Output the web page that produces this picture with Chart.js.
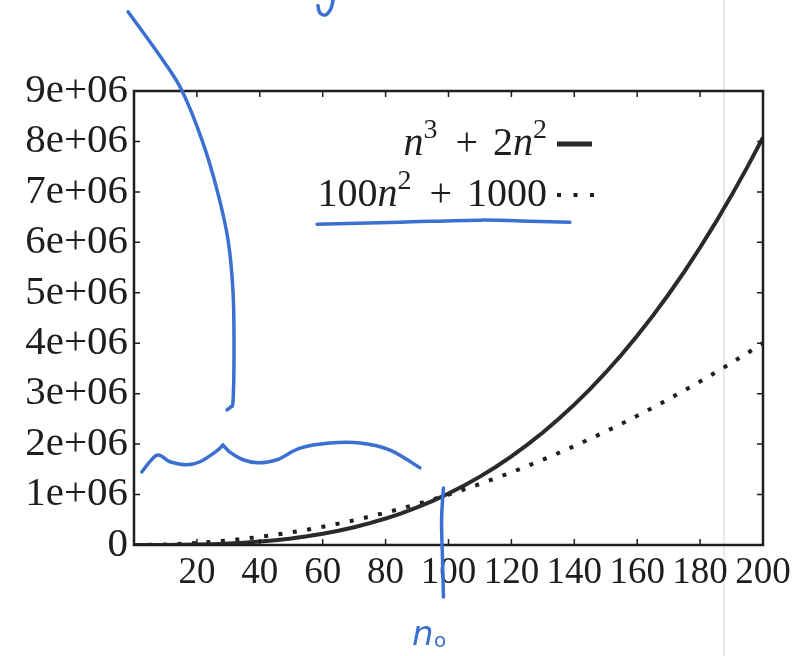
<!DOCTYPE html>
<html>
<head>
<meta charset="utf-8">
<script src="https://cdn.jsdelivr.net/npm/chart.js@4.4.0/dist/chart.umd.min.js"></script>
<style>
html, body { margin: 0; padding: 0; background: #fff; }
</style>
</head>
<body>
<canvas id="growthChart" width="798" height="656"></canvas>
<script>
// n values and the two curves
var nValues = [0, 5, 10, 15, 20, 25, 30, 35, 40, 45, 50, 55, 60, 65, 70, 75, 80, 85, 90, 95, 100,
    105, 110, 115, 120, 125, 130, 135, 140, 145, 150, 155, 160, 165, 170, 175, 180, 185, 190, 195, 200];
var cubicValues = [0, 175, 1200, 3825, 8800, 16875, 28800, 45325, 67200, 95175, 130000,
    172425, 223200, 283075, 352800, 433125, 524800, 628575, 745200, 875425, 1020000,
    1179675, 1355200, 1547325, 1756800, 1984375, 2230800, 2496825, 2783200, 3090675, 3420000,
    3771925, 4147200, 4546575, 4970800, 5420625, 5896800, 6400075, 6931200, 7490925, 8080000];
var quadValues = [1000, 3500, 11000, 23500, 41000, 63500, 91000, 123500, 161000, 203500, 251000,
    303500, 361000, 423500, 491000, 563500, 641000, 723500, 811000, 903500, 1001000,
    1103500, 1211000, 1323500, 1441000, 1563500, 1691000, 1823500, 1961000, 2103500, 2251000,
    2403500, 2561000, 2723500, 2891000, 3063500, 3241000, 3423500, 3611000, 3803500, 4001000];

// tick values and labels
var xTicks = [20, 40, 60, 80, 100, 120, 140, 160, 180, 200];
var yTicks = [0, 1e6, 2e6, 3e6, 4e6, 5e6, 6e6, 7e6, 8e6, 9e6];
var yTickLabels = ['0', '1e+06', '2e+06', '3e+06', '4e+06', '5e+06', '6e+06', '7e+06', '8e+06', '9e+06'];

// hand-drawn pen marks, in (n, value) units
var penBigStroke = [[-1.9, 10.57e6], [3.5, 10.11e6], [9.2, 9.61e6], [15.3, 9.0e6], [21.6, 8.03e6],
    [26.4, 7.04e6], [29.9, 6.05e6], [31.5, 5.0e6], [31.8, 3.87e6], [31.5, 2.87e6], [30.8, 2.74e6], [29.6, 2.68e6]];
var penBraceLeft = [[2.5, 1.45e6], [7.3, 1.78e6], [11.4, 1.65e6], [16.9, 1.59e6], [21.0, 1.65e6],
    [25.8, 1.84e6], [28.3, 1.98e6]];
var penBraceRight = [[28.3, 1.98e6], [30.5, 1.84e6], [34.7, 1.69e6], [39.4, 1.63e6], [45.5, 1.69e6],
    [52.8, 1.92e6], [62.3, 2.02e6], [71.9, 2.02e6], [81.4, 1.88e6], [90.9, 1.53e6]];
var penUnderline = [[58.2, 6.36e6], [84.6, 6.40e6], [110.0, 6.44e6], [125.9, 6.42e6], [138.6, 6.40e6]];
var penVertical = [[98.4, 1.13e6], [97.8, 0.50e6], [98.1, -0.30e6], [98.4, -1.03e6]];
var penTopGlyph = [[63.3, 10.8e6], [62.6, 10.63e6], [61.0, 10.51e6], [59.1, 10.55e6], [58.5, 10.69e6]];
var pageEdgeN = 187.6;

var serif = "'Liberation Serif', 'Times New Roman', serif";
var ink = '#1e1e1e';
var pen = '#3b6fd0';

function toPx(chart, pts) {
    var xs = chart.scales.x, ys = chart.scales.y;
    return pts.map(function(p) { return [xs.getPixelForValue(p[0]), ys.getPixelForValue(p[1])]; });
}

// catmull-rom through the points so the pen strokes stay smooth
function smoothStroke(ctx, pts) {
    ctx.beginPath();
    ctx.moveTo(pts[0][0], pts[0][1]);
    for (var i = 0; i < pts.length - 1; i++) {
        var p0 = pts[i - 1] || pts[i], p1 = pts[i], p2 = pts[i + 1], p3 = pts[i + 2] || p2;
        ctx.bezierCurveTo(
            p1[0] + (p2[0] - p0[0]) / 6, p1[1] + (p2[1] - p0[1]) / 6,
            p2[0] - (p3[0] - p1[0]) / 6, p2[1] - (p3[1] - p1[1]) / 6,
            p2[0], p2[1]);
    }
    ctx.stroke();
}

// draw a little math label, right aligned at rightX
function drawMath(ctx, parts, rightX, baseline, size) {
    var fonts = {
        r: size + 'px ' + serif,
        i: 'italic ' + size + 'px ' + serif,
        s: Math.round(size * 0.7) + 'px ' + serif
    };
    var widths = parts.map(function(p) {
        ctx.font = fonts[p[1]];
        return ctx.measureText(p[0]).width + (p[2] || 0);
    });
    var x = rightX - widths.reduce(function(a, b) { return a + b; }, 0);
    parts.forEach(function(p, k) {
        ctx.font = fonts[p[1]];
        var y = p[1] === 's' ? baseline - size * 0.42 : baseline;
        ctx.fillText(p[0], x + (p[3] || 0), y);
        x += widths[k];
    });
}

var framePlugin = {
    id: 'frame',
    beforeDraw: function(chart) {
        var ctx = chart.ctx;
        var px = chart.scales.x.getPixelForValue(pageEdgeN);
        ctx.save();
        ctx.strokeStyle = '#e8e8e8';
        ctx.lineWidth = 2;
        ctx.beginPath();
        ctx.moveTo(px, 0);
        ctx.lineTo(px, chart.height);
        ctx.stroke();
        ctx.restore();
    },
    afterDatasetsDraw: function(chart) {
        var ctx = chart.ctx, a = chart.chartArea;
        var xs = chart.scales.x, ys = chart.scales.y;
        ctx.save();
        ctx.strokeStyle = ink;
        ctx.lineWidth = 1.5;
        ctx.beginPath();
        xTicks.forEach(function(v) {
            var p = xs.getPixelForValue(v);
            ctx.moveTo(p, a.bottom); ctx.lineTo(p, a.bottom - 6);
            ctx.moveTo(p, a.top); ctx.lineTo(p, a.top + 6);
        });
        yTicks.forEach(function(v) {
            var p = ys.getPixelForValue(v);
            ctx.moveTo(a.left, p); ctx.lineTo(a.left + 6, p);
            ctx.moveTo(a.right, p); ctx.lineTo(a.right - 6, p);
        });
        ctx.stroke();
        ctx.lineWidth = 2.5;
        ctx.strokeRect(a.left, a.top, a.right - a.left, a.bottom - a.top);
        ctx.restore();
    },
    afterDraw: function(chart) {
        var ctx = chart.ctx, a = chart.chartArea;
        ctx.save();

        // legend: label first, then the line sample
        ctx.fillStyle = ink;
        ctx.textBaseline = 'alphabetic';
        var textRight = a.right - 216;
        var handleL = a.right - 206, handleR = a.right - 171;
        var row1 = a.top + 53, row2 = a.top + 104;
        drawMath(ctx, [['n', 'i'], ['3', 's', 3], ['+', 'r', 30, 15], ['2', 'r'], ['n', 'i'], ['2', 's']],
            textRight, row1 + 11, 40);
        drawMath(ctx, [['100', 'r'], ['n', 'i'], ['2', 's', 3], ['+', 'r', 30, 15], ['1000', 'r']],
            textRight, row2 + 11, 40);
        ctx.strokeStyle = '#2a2a2a';
        ctx.lineWidth = 5;
        ctx.beginPath();
        ctx.moveTo(handleL, row1);
        ctx.lineTo(handleR, row1);
        ctx.stroke();
        for (var d = 0; d < 3; d++) {
            ctx.fillRect(handleL + d * 16.5, row2 - 2, 4, 4);
        }

        // blue pen marks
        ctx.strokeStyle = pen;
        ctx.lineWidth = 3.5;
        ctx.lineCap = 'round';
        ctx.lineJoin = 'round';
        [penBigStroke, penBraceLeft, penBraceRight, penUnderline, penVertical, penTopGlyph].forEach(function(s) {
            smoothStroke(ctx, toPx(chart, s));
        });
        var n0x = chart.scales.x.getPixelForValue(96);
        ctx.fillStyle = pen;
        ctx.font = 'italic 34px "DejaVu Sans", sans-serif';
        ctx.fillText('n', n0x - 24, a.bottom + 100);
        ctx.font = '20px "DejaVu Sans", sans-serif';
        ctx.fillText('o', n0x - 2, a.bottom + 102);
        ctx.restore();
    }
};

var ctx = document.getElementById('growthChart');

var myChart = new Chart(ctx, {
    type: 'line',
    data: {
        datasets: [{
            label: 'n^3 + 2n^2',
            data: nValues.map(function(n, i) { return { x: n, y: cubicValues[i] }; }),
            borderColor: '#2a2a2a',
            borderWidth: 4,
            pointRadius: 0,
            tension: 0
        }, {
            label: '100n^2 + 1000',
            data: nValues.map(function(n, i) { return { x: n, y: quadValues[i] }; }),
            borderColor: '#1e1e1e',
            borderWidth: 4,
            borderDash: [4, 10.5],
            pointRadius: 0,
            tension: 0
        }]
    },
    options: {
        responsive: false,
        animation: false,
        layout: { padding: { left: 0, right: 35, top: 91, bottom: 0 } },
        plugins: {
            legend: { display: false },
            tooltip: { enabled: false }
        },
        scales: {
            x: {
                type: 'linear',
                min: 0,
                max: 200,
                grid: { display: false, drawTicks: false },
                border: { display: false },
                afterBuildTicks: function(s) { s.ticks = xTicks.map(function(v) { return { value: v }; }); },
                afterFit: function(s) { s.height = 111; },
                ticks: {
                    autoSkip: false,
                    maxRotation: 0,
                    padding: 6,
                    color: ink,
                    font: { family: serif, size: 37 },
                    callback: function(v) { return String(v); }
                }
            },
            y: {
                min: 0,
                max: 9e6,
                grid: { display: false, drawTicks: false },
                border: { display: false },
                afterBuildTicks: function(s) { s.ticks = yTicks.map(function(v) { return { value: v }; }); },
                afterFit: function(s) { s.width = 134; },
                ticks: {
                    autoSkip: false,
                    padding: 6,
                    color: ink,
                    font: { family: serif, size: 41 },
                    callback: function(v) { return yTickLabels[yTicks.indexOf(v)]; }
                }
            }
        }
    },
    plugins: [framePlugin]
});
</script>
</body>
</html>
